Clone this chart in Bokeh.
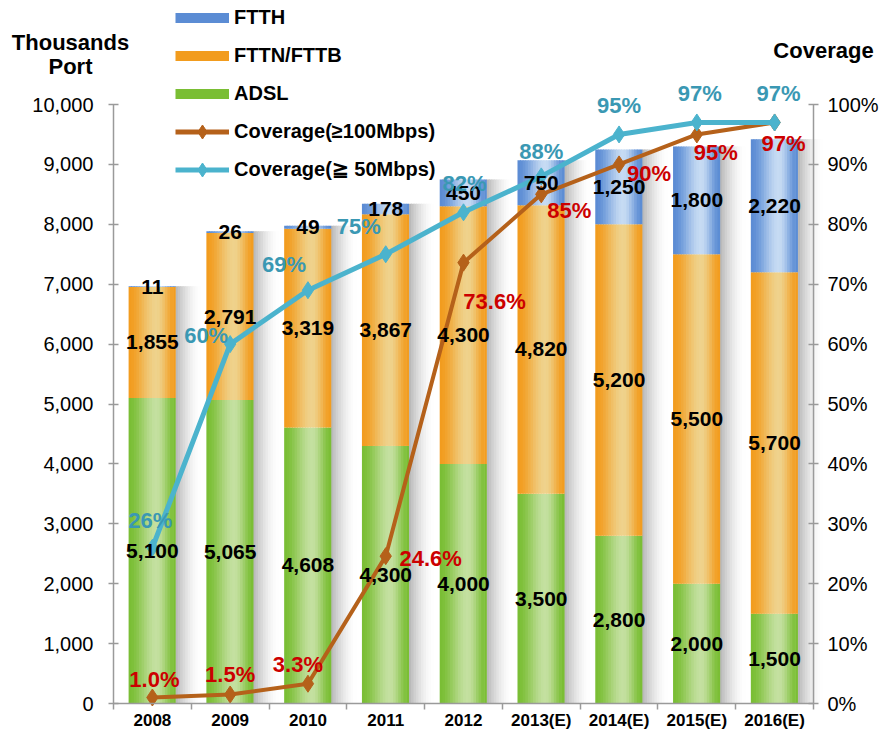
from bokeh.plotting import figure
from bokeh.models import (ColumnDataSource, Range1d, LinearAxis, FixedTicker,
                          NumeralTickFormatter, PrintfTickFormatter, Legend, LegendItem, Label)
from bokeh.transform import dodge
from bokeh.core.properties import value
from bokeh.embed import file_html
from bokeh.resources import INLINE

# ---------------- data ----------------
years = ["2008", "2009", "2010", "2011", "2012", "2013(E)", "2014(E)", "2015(E)", "2016(E)"]
adsl = [5100, 5065, 4608, 4300, 4000, 3500, 2800, 2000, 1500]
fttn = [1855, 2791, 3319, 3867, 4300, 4820, 5200, 5500, 5700]
ftth = [11, 26, 49, 178, 450, 750, 1250, 1800, 2220]
cov100 = [1.0, 1.5, 3.3, 24.6, 73.6, 85, 90, 95, 97]
cov50 = [26, 60, 69, 75, 82, 88, 95, 97, 97]
cov100_text = ["1.0%", "1.5%", "3.3%", "24.6%", "73.6%", "85%", "90%", "95%", "97%"]
cov50_text = ["26%", "60%", "69%", "75%", "82%", "88%", "95%", "97%", "97%"]
y_max = 10000
cov_max = 100

# label pixel offsets (style only)
c50_dx = [-2, -24, -24, -27, 1, 0, 0, 3, 4]
c50_dy = [-27, -9, -26, -28, -29, -25, -29, -29, -29]
c100_dx = [2, 0, -10, 45, 31, 28, 30, 19, 9]
c100_dy = [-18, -20, -19, 2, 39, 16, 9, 18, 21]

FONT = "Liberation Sans"
BLUE_D, BLUE_L = (91, 140, 212), (198, 219, 243)
ORANGE_D, ORANGE_L = (242, 156, 30), (239, 210, 140)
GREEN_D, GREEN_L = (122, 190, 52), (196, 224, 160)
BROWN = "#b5611a"
TEAL = "#4bb3cd"
TEAL_TXT = "#3a98b3"
RED_TXT = "#cc0000"
AXIS_C = "#9a9a9a"

# ---------------- layout (pixels) ----------------
W, H = 889, 739
PL, PR = 113, 813          # plot-area left/right (canvas px)
PT, PB = 104, 703          # y_max / 0 (canvas px)
n = len(years)
ux = (PR - PL) / n
uy = (PB - PT) / y_max
x_start = -0.5 - PL / ux
x_end = n - 0.5 + (W - PR) / ux
y_start = -(H - PB) / uy
y_end = y_max + PT / uy

# ---------------- derived columns ----------------
idx = list(range(n))
fttn_top = [a + b for a, b in zip(adsl, fttn)]
total = [t + c for t, c in zip(fttn_top, ftth)]
src = ColumnDataSource(dict(
    x=idx, year=years,
    zero=[0] * n,
    adsl_t=adsl,
    fttn_b=adsl, fttn_t=fttn_top,
    ftth_b=fttn_top, ftth_t=total,
    adsl_c=[a / 2 for a in adsl],
    fttn_c=[a + f / 2 for a, f in zip(adsl, fttn)],
    ftth_c=[t + h / 2 for t, h in zip(fttn_top, ftth)],
    adsl_s=[f"{v:,}" for v in adsl],
    fttn_s=[f"{v:,}" for v in fttn],
    ftth_s=[f"{v:,}" for v in ftth],
    cov100=cov100, cov50=cov50,
    cov100_s=cov100_text, cov50_s=cov50_text,
    c50_dx=c50_dx, c50_dy=c50_dy, c100_dx=c100_dx, c100_dy=c100_dy,
))

# ---------------- figure ----------------
p = figure(width=W, height=H,
           x_range=Range1d(x_start, x_end),
           y_range=Range1d(y_start, y_end),
           output_backend="svg", toolbar_location=None,
           x_axis_location=None, y_axis_location=None,
           min_border=0)
p.outline_line_color = None
p.grid.grid_line_color = None
p.background_fill_color = "white"
p.border_fill_color = "white"
p.extra_y_ranges = {"cov": Range1d(y_start * cov_max / y_max, y_end * cov_max / y_max)}


def hexc(c):
    return "#%02x%02x%02x" % tuple(int(round(v)) for v in c)


def mix(a, b, f):
    return tuple(a[i] + (b[i] - a[i]) * f for i in range(3))


BW = 0.6
# shadows
NS = 10
sw = 0.32 / NS
for i in range(NS):
    t = (i + 0.5) / NS
    g = 255 - 75 * (1 - t) ** 1.6
    off = BW / 2 + (i + 0.5) * sw
    p.vbar(x=dodge("x", off), bottom="zero", top="ftth_t", width=sw * 1.4,
           source=src, fill_color=hexc((g, g, g)), line_color=None)

# gradient bars
NB = 18
w = BW / NB
for (bcol, tcol, dark, light) in [("zero", "adsl_t", GREEN_D, GREEN_L),
                                   ("fttn_b", "fttn_t", ORANGE_D, ORANGE_L),
                                   ("ftth_b", "ftth_t", BLUE_D, BLUE_L)]:
    for i in range(NB):
        t = (i + 0.5) / NB
        peak = 0.6
        f = t / peak if t <= peak else (1 - t) / (1 - peak)
        f = 3 * f * f - 2 * f * f * f
        col = hexc(mix(dark, light, f))
        off = -BW / 2 + (i + 0.5) * w
        p.vbar(x=dodge("x", off), bottom=bcol, top=tcol,
               width=w * 1.35 if i < NB - 1 else w, source=src,
               fill_color=col, line_color=None)

# coverage lines
p.line(x="x", y="cov100", y_range_name="cov", source=src, line_color=BROWN, line_width=4)
p.scatter(x="x", y="cov100", y_range_name="cov", source=src, marker="diamond", size=17,
          fill_color=BROWN, line_color=BROWN)
p.line(x="x", y="cov50", y_range_name="cov", source=src, line_color=TEAL, line_width=5)
p.scatter(x="x", y="cov50", y_range_name="cov", source=src, marker="diamond", size=17,
          fill_color=TEAL, line_color=TEAL)

# value labels
common = dict(text_font=value(FONT), text_font_style="bold",
              text_align="center", text_baseline="middle")
p.text(x="x", y="adsl_c", text="adsl_s", source=src, text_color="black", text_font_size="21px", **common)
p.text(x="x", y="fttn_c", text="fttn_s", source=src, text_color="black", text_font_size="21px", **common)
p.text(x="x", y="ftth_c", text="ftth_s", source=src, text_color="black", text_font_size="21px", **common)
p.text(x="x", y="cov50", text="cov50_s", y_range_name="cov", source=src,
       x_offset="c50_dx", y_offset="c50_dy", text_color=TEAL_TXT, text_font_size="22px", **common)
p.text(x="x", y="cov100", text="cov100_s", y_range_name="cov", source=src,
       x_offset="c100_dx", y_offset="c100_dy", text_color=RED_TXT, text_font_size="22px", **common)

# ---------------- axes ----------------
ax_style = dict(axis_line_color=AXIS_C, axis_line_width=1.5,
                major_tick_line_color=AXIS_C, major_tick_line_width=1.5,
                major_tick_in=5, major_tick_out=5,
                minor_tick_line_color=None,
                major_label_text_font=FONT, major_label_text_font_size="20px",
                major_label_text_color="black")

yax = LinearAxis(ticker=FixedTicker(ticks=list(range(0, y_max + 1, 1000))),
                 formatter=NumeralTickFormatter(format="0,0"),
                 fixed_location=-0.5, bounds=(0, y_max),
                 major_label_standoff=15, **ax_style)
p.add_layout(yax, "left")

rax = LinearAxis(y_range_name="cov", ticker=FixedTicker(ticks=list(range(0, cov_max + 1, 10))),
                 formatter=PrintfTickFormatter(format="%d%%"),
                 fixed_location=n - 0.5, bounds=(0, cov_max),
                 major_label_standoff=9, **ax_style)
p.add_layout(rax, "right")

xax = LinearAxis(ticker=FixedTicker(ticks=idx,
                                    minor_ticks=[i - 0.5 for i in range(n + 1)]),
                 major_label_overrides={i: y for i, y in zip(idx, years)},
                 fixed_location=0, bounds=(-0.5, n - 0.5),
                 axis_line_color=AXIS_C, axis_line_width=1.5,
                 major_tick_line_color=None, major_tick_in=0, major_tick_out=0,
                 minor_tick_line_color=AXIS_C, minor_tick_line_width=1.5,
                 minor_tick_in=0, minor_tick_out=6,
                 major_label_standoff=1,
                 major_label_text_font=FONT, major_label_text_font_style="bold",
                 major_label_text_font_size="17px", major_label_text_color="black")
p.add_layout(xax, "below")

# ---------------- titles ----------------
title_style = dict(x_units="screen", y_units="screen", text_font=FONT, text_font_style="bold",
                   text_font_size="22px", text_align="center", text_baseline="middle",
                   text_color="black")
p.add_layout(Label(x=70, y=H - 42, text="Thousands", **title_style))
p.add_layout(Label(x=70, y=H - 66, text="Port", **title_style))
p.add_layout(Label(x=823, y=H - 50, text="Coverage", **title_style))

# ---------------- legend (legend-only renderers, not shown in the plot) ----------------
nan = float("nan")
dummy = ColumnDataSource(dict(x=[nan], y=[nan]))
r_ftth = p.line(x="x", y="y", source=dummy, line_color=hexc(BLUE_D), line_width=10)
r_fttn = p.line(x="x", y="y", source=dummy, line_color=hexc(ORANGE_D), line_width=10)
r_adsl = p.line(x="x", y="y", source=dummy, line_color=hexc(GREEN_D), line_width=10)
r_l100 = p.line(x="x", y="y", source=dummy, line_color=BROWN, line_width=5)
r_m100 = p.scatter(x="x", y="y", source=dummy, marker="diamond", size=9,
                   fill_color=BROWN, line_color=BROWN)
r_l50 = p.line(x="x", y="y", source=dummy, line_color=TEAL, line_width=5)
r_m50 = p.scatter(x="x", y="y", source=dummy, marker="diamond", size=14,
                  fill_color=TEAL, line_color=TEAL)

GH, SP = 35, 3
leg_top = 17 - GH / 2
leg_h = 5 * GH + 4 * SP
legend = Legend(items=[
    LegendItem(label="FTTH", renderers=[r_ftth]),
    LegendItem(label="FTTN/FTTB", renderers=[r_fttn]),
    LegendItem(label="ADSL", renderers=[r_adsl]),
    LegendItem(label="Coverage(≥100Mbps)", renderers=[r_l100, r_m100]),
    LegendItem(label="Coverage(≧ 50Mbps)", renderers=[r_l50, r_m50]),
], location=(175, H - (leg_top + leg_h)), orientation="vertical",
    glyph_width=54, glyph_height=GH, label_height=20, spacing=SP,
    padding=0, margin=0, label_standoff=5,
    label_text_font=FONT, label_text_font_style="bold", label_text_font_size="20px",
    label_text_color="black", label_text_baseline="middle",
    border_line_color=None, background_fill_alpha=0)
p.add_layout(legend)

open("out.html", "w").write(file_html(p, INLINE))
